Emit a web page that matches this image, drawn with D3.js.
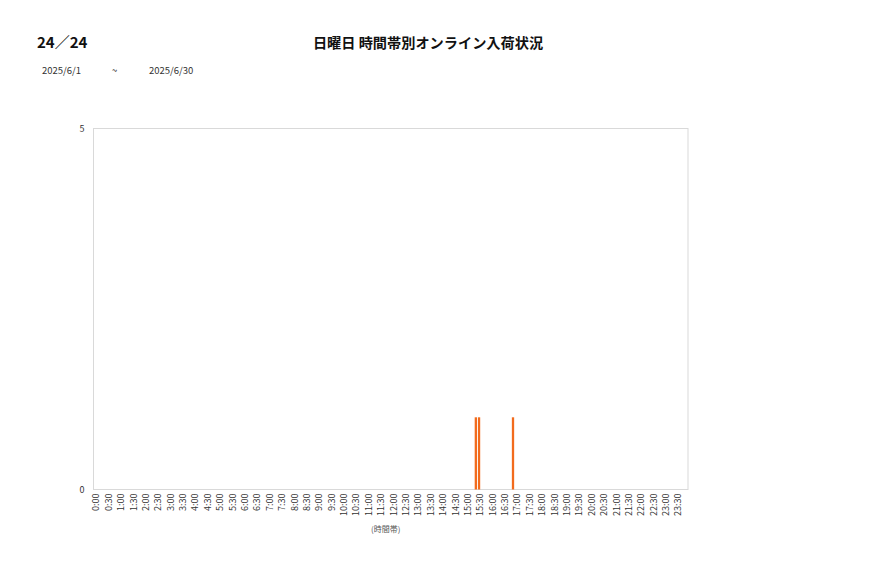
<!DOCTYPE html>
<html>
<head>
<meta charset="utf-8">
<script src="https://cdn.jsdelivr.net/npm/d3@7"></script>
<style>
  body { margin: 0; background: #fff; }
  text { font-family: "Noto Sans CJK JP", "Noto Sans", sans-serif; fill: #333; }
</style>
</head>
<body>
<div id="chart"></div>
<script>
// 時間帯ラベル
const slotLabels = [
  "0:00","0:30","1:00","1:30","2:00","2:30","3:00","3:30","4:00","4:30","5:00","5:30",
  "6:00","6:30","7:00","7:30","8:00","8:30","9:00","9:30","10:00","10:30","11:00","11:30",
  "12:00","12:30","13:00","13:30","14:00","14:30","15:00","15:30","16:00","16:30","17:00","17:30",
  "18:00","18:30","19:00","19:30","20:00","20:30","21:00","21:30","22:00","22:30","23:00","23:30"
];

// 日曜日ごとの系列
const seriesNames = ["6/1", "6/8", "6/15", "6/22", "6/29"];
const s0601 = [0,0,0,0,0,0,0,0,0,0,0,0, 0,0,0,0,0,0,0,0,0,0,0,0, 0,0,0,0,0,0,0,1,0,0,0,0, 0,0,0,0,0,0,0,0,0,0,0,0];
const s0608 = [0,0,0,0,0,0,0,0,0,0,0,0, 0,0,0,0,0,0,0,0,0,0,0,0, 0,0,0,0,0,0,0,0,0,0,0,0, 0,0,0,0,0,0,0,0,0,0,0,0];
const s0615 = [0,0,0,0,0,0,0,0,0,0,0,0, 0,0,0,0,0,0,0,0,0,0,0,0, 0,0,0,0,0,0,0,0,0,0,0,0, 0,0,0,0,0,0,0,0,0,0,0,0];
const s0622 = [0,0,0,0,0,0,0,0,0,0,0,0, 0,0,0,0,0,0,0,0,0,0,0,0, 0,0,0,0,0,0,0,0,0,0,0,0, 0,0,0,0,0,0,0,0,0,0,0,0];
const s0629 = [0,0,0,0,0,0,0,0,0,0,0,0, 0,0,0,0,0,0,0,0,0,0,0,0, 0,0,0,0,0,0,1,0,0,1,0,0, 0,0,0,0,0,0,0,0,0,0,0,0];
const yTicks = [0, 5];

const seriesValues = [s0601, s0608, s0615, s0622, s0629];

const W = 877, H = 578;
const margin = { top: 128.5, right: 189, bottom: 88.5, left: 93.5 };
const width = W - margin.left - margin.right;
const height = H - margin.top - margin.bottom;

const svg = d3.select("#chart").append("svg")
  .attr("width", W)
  .attr("height", H);

// ヘッダー
svg.append("text")
  .attr("x", 37).attr("y", 48)
  .attr("font-size", "15px").attr("font-weight", "700")
  .style("fill", "#111")
  .text("24／24");

svg.append("text")
  .attr("x", 428).attr("y", 48)
  .attr("text-anchor", "middle")
  .attr("font-size", "14.2px").attr("font-weight", "700")
  .style("fill", "#111")
  .text("日曜日 時間帯別オンライン入荷状況");

svg.append("text").attr("x", 42).attr("y", 74).attr("font-size", "9.5px").text("2025/6/1");
svg.append("text").attr("x", 112).attr("y", 74).attr("font-size", "9.5px").text("~");
svg.append("text").attr("x", 149).attr("y", 74).attr("font-size", "9.5px").text("2025/6/30");

const g = svg.append("g")
  .attr("transform", `translate(${margin.left},${margin.top})`);

// スケール
const x = d3.scaleBand()
  .domain(slotLabels)
  .range([0, width])
  .padding(0);

const xs = d3.scaleBand()
  .domain(seriesNames)
  .range([0, x.bandwidth()])
  .paddingInner(0)
  .paddingOuter(0.2);

const y = d3.scaleLinear()
  .domain([0, 5])
  .range([height, 0]);

// 枠
g.append("rect")
  .attr("x", 0).attr("y", 0)
  .attr("width", width).attr("height", height)
  .attr("fill", "none")
  .attr("stroke", "#d9d9d9")
  .attr("stroke-width", 1);

// Y軸
const yAxis = g.append("g")
  .call(d3.axisLeft(y).tickValues(yTicks).tickFormat(d3.format("d")).tickSize(0).tickPadding(9));
yAxis.select(".domain").remove();
yAxis.selectAll("text")
  .attr("font-size", "9px")
  .attr("font-family", "\"Noto Sans CJK JP\", sans-serif")
  .style("fill", "#333");

// X軸
const xAxis = g.append("g")
  .attr("transform", `translate(0,${height})`)
  .call(d3.axisBottom(x).tickSize(0));
xAxis.select(".domain").remove();
xAxis.selectAll("text")
  .attr("font-size", "9px")
  .attr("font-family", "\"Noto Sans CJK JP\", sans-serif")
  .style("fill", "#333")
  .attr("text-anchor", "end")
  .attr("transform", "translate(-3.5,4) rotate(-90)")
  .attr("x", 0)
  .attr("y", 0)
  .attr("dy", "0.35em");

// 棒
const groups = g.selectAll(".slot")
  .data(slotLabels)
  .enter()
  .append("g")
  .attr("class", "slot")
  .attr("transform", d => `translate(${x(d)},0)`);

groups.selectAll("rect")
  .data((d, i) => seriesNames.map((s, k) => ({ s, v: seriesValues[k][i] })))
  .enter()
  .append("rect")
  .attr("x", d => xs(d.s))
  .attr("y", d => y(d.v))
  .attr("width", xs.bandwidth())
  .attr("height", d => height - y(d.v))
  .attr("fill", "#F26B1D");

// 軸タイトル
svg.append("text")
  .attr("x", margin.left + width / 2 - 5)
  .attr("y", 532)
  .attr("text-anchor", "middle")
  .attr("font-size", "8px")
  .style("fill", "#555")
  .text("(時間帯)");
</script>
</body>
</html>
